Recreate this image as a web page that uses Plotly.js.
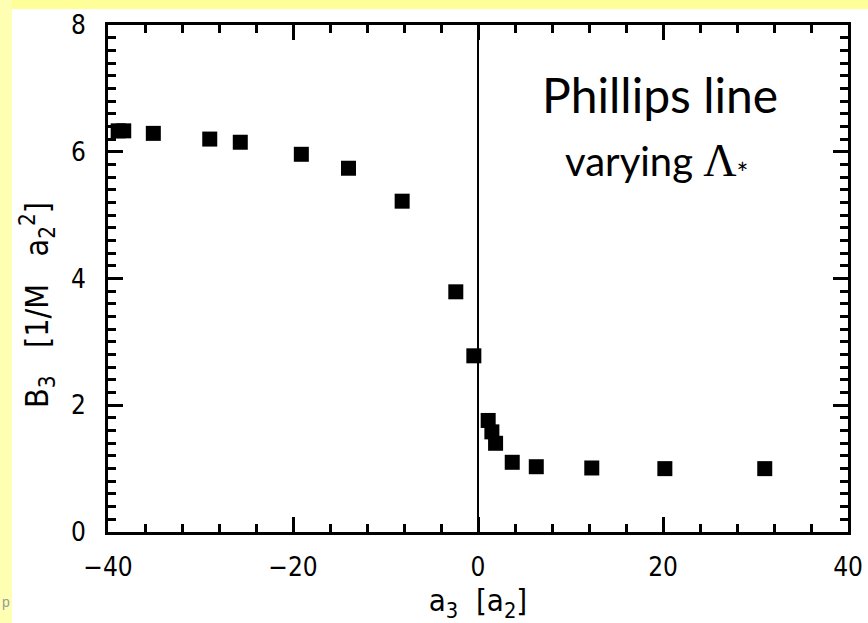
<!DOCTYPE html>
<html>
<head>
<meta charset="utf-8">
<script src="https://cdn.plot.ly/plotly-3.0.1.min.js"></script>
<style>
  html, body { margin: 0; padding: 0; }
</style>
</head>
<body>
<div id="plot"></div>
<script>
// Data
const a3 = [-38.9, -38.3, -35.1, -29.0, -25.7, -19.1, -14.0, -8.2, -2.4, -0.45, 1.1, 1.5, 1.9, 3.7, 6.3, 12.3, 20.2, 31.0];
const B3 = [6.33, 6.33, 6.29, 6.20, 6.15, 5.96, 5.74, 5.22, 3.79, 2.78, 1.76, 1.58, 1.40, 1.10, 1.03, 1.01, 1.00, 1.00];
const xRange = [-40, 40];
const yRange = [0, 8];

const fam = '"DejaVu Sans Condensed", "Liberation Sans", Arial, sans-serif';
const tickFont = {family: fam, size: 26, color: '#000'};
const titleFont = {family: fam, size: 31, color: '#000'};

// pixel -> paper helpers for decoration placement (plot area 108..848 x 25..532)
const px = v => (v - 108) / 740;
const py = v => (532 - v) / 507;

const layout = {
  width: 868, height: 623,
  margin: {l: 108, r: 20, t: 25, b: 91},
  paper_bgcolor: '#ffffff', plot_bgcolor: '#ffffff', showlegend: false,
  xaxis: {range: xRange, tick0: 0, dtick: 20, ticks: 'inside', ticklen: 15, tickwidth: 3, tickcolor: '#000',
    minor: {tick0: 0, dtick: 4, ticks: 'inside', ticklen: 8, tickwidth: 3, tickcolor: '#000'},
    showline: true, linewidth: 3, linecolor: '#000', mirror: 'ticks', showgrid: false,
    zeroline: true, zerolinecolor: '#000', zerolinewidth: 2,
    tickfont: tickFont, ticklabelstandoff: 10,
    title: {text: 'a<sub>3</sub>  [a<sub>2</sub>]', font: titleFont, standoff: 0}},
  yaxis: {range: yRange, tick0: 0, dtick: 2, ticks: 'inside', ticklen: 15, tickwidth: 3, tickcolor: '#000',
    minor: {tick0: 0, dtick: 0.2, ticks: 'inside', ticklen: 8, tickwidth: 3, tickcolor: '#000'},
    showline: true, linewidth: 3, linecolor: '#000', mirror: 'ticks', showgrid: false, zeroline: false,
    tickfont: tickFont, ticklabelstandoff: 14},
  shapes: [
    {type: 'rect', xref: 'paper', yref: 'paper', layer: 'below', line: {width: 0}, fillcolor: '#ffff99',
     x0: px(0), x1: px(868), y0: py(9), y1: py(0)},
    {type: 'rect', xref: 'paper', yref: 'paper', layer: 'below', line: {width: 0}, fillcolor: '#ffffb4',
     x0: px(0), x1: px(12), y0: py(623), y1: py(0)}
  ],
  annotations: [
    {xref: 'paper', yref: 'paper', x: px(37), y: py(305), xanchor: 'center', yanchor: 'middle',
     textangle: -90, text: 'B<sub>3</sub>   [1/M   a<sub>2</sub><sup>2</sup>]', showarrow: false,
     font: {family: fam, size: 32, color: '#000'}},
    {xref: 'paper', yref: 'paper', x: px(660), y: py(94), xanchor: 'center', yanchor: 'middle',
     text: 'Phillips line', showarrow: false,
     font: {family: 'Lato, "Noto Sans", sans-serif', size: 48, color: '#000'}},
    {xref: 'paper', yref: 'paper', x: px(657), y: py(162), xanchor: 'center', yanchor: 'middle',
     text: 'varying <span style="font-family:\'Liberation Serif\', serif;font-size:46px">\u039B</span><sub>*</sub>', showarrow: false,
     font: {family: 'Lato, "Noto Sans", sans-serif', size: 40, color: '#000'}},
    {xref: 'paper', yref: 'paper', x: px(0), y: py(602), xanchor: 'left', yanchor: 'middle',
     text: 'p', showarrow: false, font: {family: 'Liberation Sans, sans-serif', size: 14, color: '#9a9a9a'}}
  ]
};

Plotly.newPlot('plot', [{x: a3, y: B3, type: 'scatter', mode: 'markers',
  marker: {symbol: 'square', size: 15, color: '#000'}, cliponaxis: false}], layout, {displayModeBar: false});
</script>
</body>
</html>
